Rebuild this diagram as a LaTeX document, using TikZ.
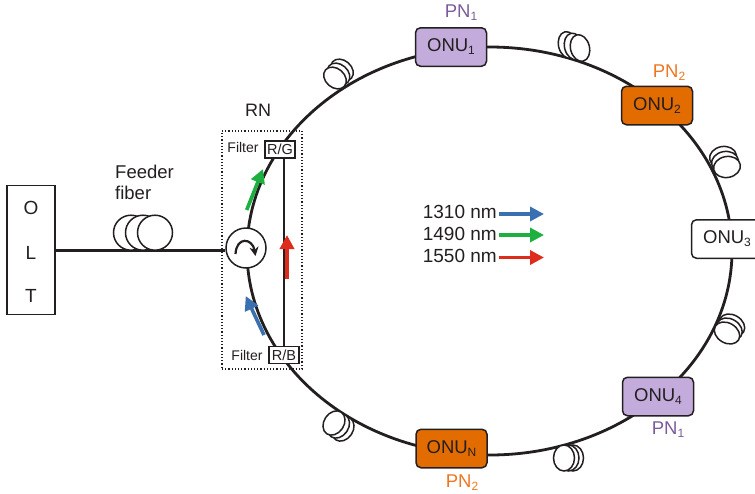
\documentclass[tikz,border=0pt]{standalone}
\usepackage{fontspec}
\setmainfont{Liberation Sans}
\usepackage{tikz}
\usetikzlibrary{arrows.meta, shapes.geometric}
\definecolor{pnpurple}{HTML}{7B5B9A}
\definecolor{pnorange}{HTML}{EE7623}
\definecolor{onupurple}{HTML}{C3ABDB}
\definecolor{onuorange}{HTML}{E36C00}
\definecolor{lamblue}{HTML}{3A6FB0}
\definecolor{lamgreen}{HTML}{1DB040}
\definecolor{lamred}{HTML}{DE2C1C}
\definecolor{ink}{HTML}{231F20}
\newcommand{\onusub}[1]{\raisebox{-3pt}{\fontsize{12}{12}\selectfont #1}}

\begin{document}
\begin{tikzpicture}[
    x=1pt, y=-1pt,
    every node/.style={text=ink},
    txt/.style={font=\fontsize{#1}{#1}\selectfont, inner sep=0pt},
    onu/.style={rectangle, draw=ink, line width=1.5pt, fill=#1, minimum width=71pt, minimum height=38.5pt, rounded corners=5pt, inner sep=0pt, font=\fontsize{18.5}{18.5}\selectfont},
    filterbox/.style={rectangle, draw=ink, line width=1.5pt, fill=white, minimum width=30pt, minimum height=17pt, inner sep=0pt, font=\fontsize{14.5}{14.5}\selectfont},
    fiber/.style={line width=2.8pt, draw=ink},
    coil/.style={ellipse, draw=ink, line width=1.5pt, fill=white, inner sep=0pt},
    lam/.style={line width=3.6pt, draw=#1, -{Triangle[length=14pt,width=14pt,fill=#1]}}
]
\useasboundingbox (0,0) rectangle (755,493);

% Ring
\node[ellipse, draw=ink, line width=2.8pt, minimum width=485pt, minimum height=408pt, inner sep=0pt] (ring) at (489.5,251) {};

% Coils on the ring
\foreach \i/\cx/\cy/\dx/\dy/\w/\h/\r in {
    1/335/78/3.5/-4/19/25/49,
    2/580/48/-6/-1.5/19/27/14,
    3/727/167/-2/-5/21/27/100,
    4/727/333/2.5/-4/20/27/60,
    5/564/458/4.5/0/21/26/0,
    6/334/423/4.5/3/20/26/-34}
    \foreach \k in {2,1,0}
        \node[coil, minimum width=\w pt, minimum height=\h pt, rotate=\r] (coil\i\k) at (\cx+\k*\dx, \cy+\k*\dy) {};

% OLT and feeder
\node[rectangle, draw=ink, line width=1.5pt, minimum width=48pt, minimum height=129pt, inner sep=0pt] (olt) at (31,250) {};
\node[txt=19] (oltO) at (31,208) {O};
\node[txt=19] (oltL) at (31,253) {L};
\node[txt=19] (oltT) at (31,296) {T};
\node[txt=19, align=left, font=\fontsize{18.5}{21}\selectfont, anchor=north west] (feeder) at (115,165) {Feeder\\fiber};
\node[circle, draw=ink, line width=1.5pt, fill=white, minimum size=40pt, inner sep=0pt] (circ) at (246,248) {};
\draw[fiber] (olt.east |- circ.188) -- (circ.188);
\foreach \k/\cx in {1/131,2/143,3/155}
    \node[circle, draw=ink, line width=1.5pt, fill=white, minimum size=35pt, inner sep=0pt] (feed\k) at (\cx,232.7) {};
\draw[line width=2.2pt, draw=ink, -{Stealth[length=9pt,width=9pt]}] ([shift={(-10.5,6)}]circ.center) .. controls +(1,-18) and +(-3,-18) .. ([shift={(9.5,8)}]circ.center);

% RN
\node[txt=18] (rnlabel) at (258,110) {RN};
\node[rectangle, draw=ink, dotted, line width=1.2pt, minimum width=80pt, minimum height=238pt, inner sep=0pt] (rn) at (262,250) {};
\node[filterbox] (rg) at (280,149.5) {R/G};
\node[filterbox] (rb) at (284,355) {R/B};
\draw[line width=1.5pt, draw=ink] (rb.north) -- (rb.north |- rg.south);
\node[txt=14] (filter1) at (243,147) {Filter};
\node[txt=14] (filter2) at (247,355) {Filter};

\coordinate (gs) at (246.7,210);
\coordinate (ge) at (263,169);
\coordinate (bs) at (264,335);
\coordinate (be) at (245.7,296);
\coordinate (rs) at (287,279);
\coordinate (re) at (287,235);
\draw[lam=lamgreen] (gs) -- (ge);
\draw[lam=lamblue] (bs) -- (be);
\draw[lam=lamred] (rs) -- (re);

% ONUs
\node[onu=onupurple] (onu1) at (451,47) {ONU\onusub{1}};
\node[onu=onuorange] (onu2) at (657,105.5) {ONU\onusub{2}};
\node[onu=white] (onu3) at (727,239) {ONU\onusub{3}};
\node[onu=onupurple] (onu4) at (658,396.5) {ONU\onusub{4}};
\node[onu=onuorange] (onun) at (451.5,448.5) {ONU\onusub{N}};

\node[txt=18.5, text=pnpurple] (pn1) at (461,13) {PN\onusub{1}};
\node[txt=18.5, text=pnorange] (pn2) at (669,73) {PN\onusub{2}};
\node[txt=18.5, text=pnpurple] (pn4) at (668,430) {PN\onusub{1}};
\node[txt=18.5, text=pnorange] (pnn) at (462,483) {PN\onusub{2}};

% Legend
\node[txt=19, anchor=east] (l1310) at (497,212) {1310 nm};
\node[txt=19, anchor=east] (l1490) at (497,233.5) {1490 nm};
\node[txt=19, anchor=east] (l1550) at (497,256) {1550 nm};
\coordinate (e1310) at (544,214);
\coordinate (e1490) at (544,235);
\coordinate (e1550) at (544,257.5);
\draw[lam=lamblue] ([xshift=2pt]l1310.east |- e1310) -- (e1310);
\draw[lam=lamgreen] ([xshift=2pt]l1490.east |- e1490) -- (e1490);
\draw[lam=lamred] ([xshift=2pt]l1550.east |- e1550) -- (e1550);
\end{tikzpicture}
\end{document}
